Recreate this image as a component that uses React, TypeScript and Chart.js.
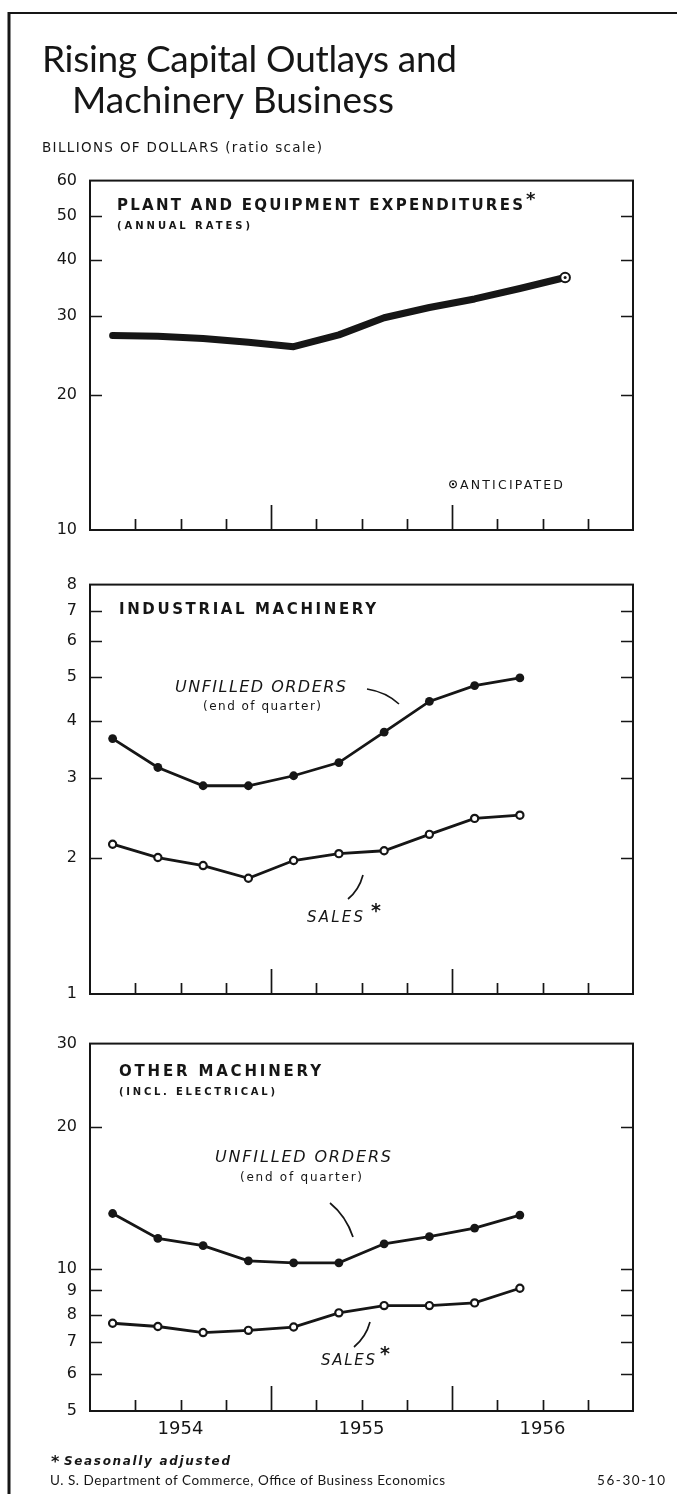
import React, { useEffect, useRef } from 'react';
import { Chart, registerables } from 'chart.js';

Chart.register(...registerables);

// ---------- data ----------
const QUARTERS = ['1954 Q1', '1954 Q2', '1954 Q3', '1954 Q4', '1955 Q1', '1955 Q2', '1955 Q3', '1955 Q4', '1956 Q1', '1956 Q2', '1956 Q3'];
const YEARS = ['1954', '1955', '1956'];
const PLANT_EQUIPMENT = [27.1, 27.0, 26.7, 26.2, 25.6, 27.2, 29.7, 31.3, 32.7, 34.5, 36.5];
const ANTICIPATED_INDEX = 10;
const IND_UNFILLED = [3.66, 3.16, 2.88, 2.88, 3.03, 3.24, 3.78, 4.42, 4.79, 4.98];
const IND_SALES = [2.14, 2.0, 1.92, 1.8, 1.97, 2.04, 2.07, 2.25, 2.44, 2.48];
const OTH_UNFILLED = [13.1, 11.6, 11.2, 10.4, 10.3, 10.3, 11.3, 11.7, 12.2, 13.0];
const OTH_SALES = [7.67, 7.55, 7.33, 7.41, 7.53, 8.07, 8.36, 8.36, 8.47, 9.1];
const PANEL1_TICKS = [10, 20, 30, 40, 50, 60];
const PANEL2_TICKS = [1, 2, 3, 4, 5, 6, 7, 8];
const PANEL3_TICKS = [5, 6, 7, 8, 9, 10, 20, 30];

// ---------- layout ----------
const PAGE_W = 677;
const PAGE_H = 1494;
const PANEL_LEFT = 90;
const PANEL_RIGHT = 633;
const INK = '#161616';
const QUARTER_COUNT = YEARS.length * 4;

const pts = (vals: number[]) => vals.map((v, i) => ({ x: i + 0.5, y: v, q: QUARTERS[i] }));

function makeFramePlugin(yTicks: number[]) {
  return {
    id: 'frame',
    beforeDatasetsDraw(chart: any) {
      const { ctx, chartArea: a, scales } = chart;
      const y = scales.y;
      const x = scales.x;
      ctx.save();
      ctx.strokeStyle = INK;
      ctx.lineWidth = 2;
      ctx.strokeRect(a.left, a.top, a.right - a.left, a.bottom - a.top);
      ctx.lineWidth = 1.7;
      ctx.beginPath();
      const inner = yTicks.slice(1, -1);
      inner.forEach((v) => {
        const py = Math.round(y.getPixelForValue(v)) + 0.5;
        ctx.moveTo(a.left, py);
        ctx.lineTo(a.left + 12, py);
        ctx.moveTo(a.right, py);
        ctx.lineTo(a.right - 12, py);
      });
      for (let q = 1; q < QUARTER_COUNT; q++) {
        const px = Math.round(x.getPixelForValue(q)) + 0.5;
        const len = q % 4 === 0 ? 25 : 11;
        ctx.moveTo(px, a.bottom);
        ctx.lineTo(px, a.bottom - len);
      }
      ctx.stroke();
      ctx.restore();
    },
  };
}

type PanelProps = {
  top: number;
  bottom: number;
  yMin: number;
  yMax: number;
  yTicks: number[];
  datasets: any[];
  showYears: boolean;
};

function Panel({ top, bottom, yMin, yMax, yTicks, datasets, showYears }: PanelProps) {
  const ref = useRef<HTMLCanvasElement>(null);
  const padTop = 14;
  const padBottom = showYears ? 44 : 14;
  const height = bottom - top + padTop + padBottom;

  useEffect(() => {
    const yearPos = YEARS.map((_, i) => i * 4 + 2);
    const chart = new Chart(ref.current as HTMLCanvasElement, {
      type: 'line',
      data: { datasets },
      options: {
        animation: false,
        responsive: false,
        maintainAspectRatio: false,
        events: [],
        layout: {
          padding: { left: 0, right: PAGE_W - PANEL_RIGHT, top: padTop, bottom: showYears ? 0 : padBottom },
        },
        plugins: { legend: { display: false }, tooltip: { enabled: false } },
        scales: {
          x: {
            type: 'linear',
            min: 0,
            max: QUARTER_COUNT,
            display: showYears,
            grid: { display: false, drawTicks: false },
            border: { display: false },
            afterBuildTicks: (axis: any) => {
              axis.ticks = yearPos.map((v) => ({ value: v }));
            },
            afterFit: (axis: any) => {
              axis.height = padBottom;
            },
            ticks: {
              autoSkip: false,
              maxRotation: 0,
              padding: 8,
              color: INK,
              font: { family: 'DejaVu Sans', size: 18 },
              callback: (v: any) => YEARS[yearPos.indexOf(Number(v))] ?? '',
            },
          },
          y: {
            type: 'logarithmic',
            min: yMin,
            max: yMax,
            grid: { display: false, drawTicks: false },
            border: { display: false },
            afterBuildTicks: (axis: any) => {
              axis.ticks = yTicks.map((v) => ({ value: v }));
            },
            afterFit: (axis: any) => {
              axis.width = PANEL_LEFT;
            },
            ticks: {
              autoSkip: false,
              padding: 13,
              color: INK,
              font: { family: 'DejaVu Sans', size: 16 },
              callback: (v: any) => String(v),
            },
          },
        },
      } as any,
      plugins: [makeFramePlugin(yTicks)],
    });
    return () => chart.destroy();
  }, []);

  return (
    <canvas
      ref={ref}
      width={PAGE_W}
      height={height}
      style={{ position: 'absolute', left: 0, top: top - padTop, width: PAGE_W, height }}
    />
  );
}

const unfilledStyle = {
  borderColor: INK,
  borderWidth: 2.8,
  pointRadius: 4.4,
  pointBackgroundColor: INK,
  pointBorderColor: INK,
  pointBorderWidth: 0,
  tension: 0,
};
const salesStyle = {
  borderColor: INK,
  borderWidth: 2.8,
  pointRadius: 3.6,
  pointBackgroundColor: '#fff',
  pointBorderColor: INK,
  pointBorderWidth: 2.2,
  tension: 0,
};

export default function App() {
  const plantData = pts(PLANT_EQUIPMENT);
  const panel1 = [
    {
      data: [plantData[ANTICIPATED_INDEX]],
      showLine: false,
      pointRadius: 1.5,
      pointBackgroundColor: INK,
      pointBorderWidth: 0,
      order: -2,
    },
    {
      data: plantData,
      borderColor: INK,
      borderWidth: 7,
      borderCapStyle: 'round',
      borderJoinStyle: 'round',
      tension: 0,
      pointRadius: plantData.map((_, i) => (i === ANTICIPATED_INDEX ? 4.8 : 0)),
      pointBackgroundColor: '#fff',
      pointBorderColor: INK,
      pointBorderWidth: 2,
      order: -1,
    },
  ];
  const panel2 = [
    { data: pts(IND_UNFILLED), ...unfilledStyle },
    { data: pts(IND_SALES), ...salesStyle },
  ];
  const panel3 = [
    { data: pts(OTH_UNFILLED), ...unfilledStyle },
    { data: pts(OTH_SALES), ...salesStyle },
  ];

  const caps = { fontFamily: 'DejaVu Sans', fill: INK };
  const bold = { fontFamily: 'DejaVu Sans', fontWeight: 'bold', fill: INK };
  const ital = { fontFamily: 'DejaVu Sans', fontStyle: 'oblique', fill: INK };

  return (
    <div style={{ position: 'absolute', left: 0, top: 0, width: PAGE_W, height: PAGE_H, background: '#fff', overflow: 'hidden' }}>
      <Panel top={172} bottom={544} yMin={10} yMax={60} yTicks={PANEL1_TICKS} datasets={panel1} showYears={false} />
      <Panel top={576} bottom={1008} yMin={1} yMax={8} yTicks={PANEL2_TICKS} datasets={panel2} showYears={false} />
      <Panel top={1035} bottom={1411} yMin={5} yMax={30} yTicks={PANEL3_TICKS} datasets={panel3} showYears={true} />
      <svg
        width={PAGE_W}
        height={PAGE_H}
        style={{ position: 'absolute', left: 0, top: 0, pointerEvents: 'none' }}
      >
        <line x1={9} y1={12} x2={9} y2={PAGE_H} stroke={INK} strokeWidth={3} />
        <line x1={8} y1={13} x2={PAGE_W} y2={13} stroke={INK} strokeWidth={2} />

        <text x={42} y={72} fontSize={37} fontFamily="Lato" fill={INK} textLength={415} lengthAdjust="spacing">Rising Capital Outlays and</text>
        <text x={72} y={113} fontSize={37} fontFamily="Lato" fill={INK}>Machinery Business</text>
        <text x={42} y={152} fontSize={13.5} {...caps} textLength={280} lengthAdjust="spacing">BILLIONS OF DOLLARS (ratio scale)</text>

        <text x={117} y={210} fontSize={15} {...bold} textLength={406} lengthAdjust="spacing">PLANT AND EQUIPMENT EXPENDITURES</text>
        <text x={526} y={205} fontSize={18} {...bold}>*</text>
        <text x={117} y={229} fontSize={10} {...bold} textLength={133} lengthAdjust="spacing">(ANNUAL RATES)</text>
        <text x={448} y={488} fontSize={12} {...bold}>⊙</text>
        <text x={460} y={489} fontSize={12.5} {...caps} textLength={103} lengthAdjust="spacing">ANTICIPATED</text>

        <text x={119} y={614} fontSize={15} {...bold} textLength={257} lengthAdjust="spacing">INDUSTRIAL MACHINERY</text>
        <text x={175} y={692} fontSize={16} {...ital} textLength={171} lengthAdjust="spacing">UNFILLED ORDERS</text>
        <text x={262} y={710} fontSize={12} {...caps} textAnchor="middle" textLength={118} lengthAdjust="spacing">(end of quarter)</text>
        <path d="M367,689 Q386,692 399,704" stroke={INK} strokeWidth={1.7} fill="none" />
        <path d="M363,875 Q359,890 348,899" stroke={INK} strokeWidth={1.7} fill="none" />
        <text x={307} y={922} fontSize={15} {...ital} textLength={56} lengthAdjust="spacing">SALES</text>
        <text x={371} y={917} fontSize={19} {...bold}>*</text>

        <text x={119} y={1076} fontSize={15} {...bold} textLength={202} lengthAdjust="spacing">OTHER MACHINERY</text>
        <text x={119} y={1095} fontSize={10} {...bold} textLength={156} lengthAdjust="spacing">(INCL. ELECTRICAL)</text>
        <text x={215} y={1162} fontSize={16} {...ital} textLength={176} lengthAdjust="spacing">UNFILLED ORDERS</text>
        <text x={301} y={1181} fontSize={12} {...caps} textAnchor="middle" textLength={122} lengthAdjust="spacing">(end of quarter)</text>
        <path d="M330,1203 Q346,1216 353,1237" stroke={INK} strokeWidth={1.7} fill="none" />
        <path d="M370,1322 Q366,1337 354,1347" stroke={INK} strokeWidth={1.7} fill="none" />
        <text x={321} y={1365} fontSize={15} {...ital} textLength={54} lengthAdjust="spacing">SALES</text>
        <text x={380} y={1360} fontSize={19} {...bold}>*</text>

        <text x={51} y={1467} fontSize={16} {...bold}>*</text>
        <text x={64} y={1465} fontSize={12} fontWeight="bold" {...ital} textLength={166} lengthAdjust="spacing">Seasonally adjusted</text>
        <text x={50} y={1485} fontSize={13.5} fontFamily="Lato" fill={INK} textLength={395} lengthAdjust="spacing">U. S. Department of Commerce, Office of Business Economics</text>
        <text x={665} y={1485} fontSize={13.5} fontFamily="Lato" fill={INK} textAnchor="end" textLength={68} lengthAdjust="spacing">56-30-10</text>
      </svg>
    </div>
  );
}
